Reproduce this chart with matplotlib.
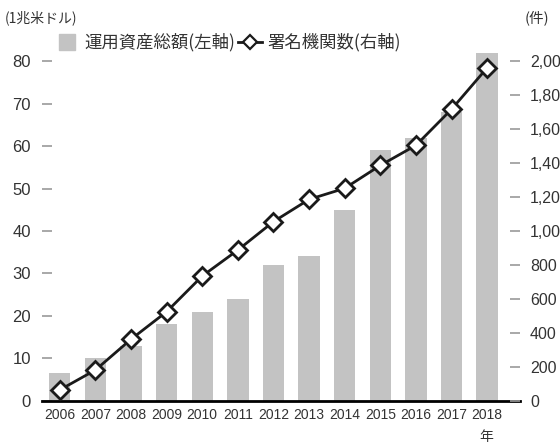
import matplotlib
matplotlib.use('Agg')
import matplotlib.pyplot as plt
from matplotlib.lines import Line2D

plt.rcParams['font.family'] = ['Liberation Sans', 'Noto Sans CJK JP', 'DejaVu Sans']

years = ['2006', '2007', '2008', '2009', '2010', '2011', '2012',
         '2013', '2014', '2015', '2016', '2017', '2018']
# 運用資産総額 (1兆米ドル, left axis)
assets = [6.5, 10, 13, 18, 21, 24, 32, 34, 45, 59, 62, 68, 82]
# 署名機関数 (件, right axis)
signatories = [65, 182, 363, 525, 735, 888, 1055, 1186, 1251, 1386, 1504, 1716, 1960]

left_ticks = [0, 10, 20, 30, 40, 50, 60, 70, 80]
right_ticks = [0, 200, 400, 600, 800, 1000, 1200, 1400, 1600, 1800, 2000]

bar_color = '#c3c3c3'
tick_gray = '#9a9a9a'
text_color = '#333333'

fig = plt.figure(figsize=(5.6, 4.45), dpi=100)
ax = fig.add_axes([0.075, 0.099, 0.854, 0.802])
x = list(range(len(years)))

ax.bar(x, assets, width=0.6, color=bar_color, zorder=1)
ax.set_xlim(-0.5, 12.93)
ax.set_ylim(0, 84)
ax.set_yticks(left_ticks)
ax.set_xticks(x)
ax.set_xticklabels(years, fontsize=10, color=text_color)
ax.tick_params(axis='x', length=0, pad=5)
ax.tick_params(axis='y', direction='in', length=7, width=1.2, color=tick_gray,
               pad=8, labelsize=12, labelcolor=text_color)

for s in ['top', 'left', 'right']:
    ax.spines[s].set_visible(False)
ax.spines['bottom'].set_linewidth(2)
ax.spines['bottom'].set_zorder(5)

ax2 = ax.twinx()
ax2.plot(x, signatories, color='#1a1a1a', lw=2, marker='D', markersize=9,
         markerfacecolor='white', markeredgecolor='#1a1a1a', markeredgewidth=2,
         zorder=3, clip_on=False)
ax2.set_ylim(0, 2100)
ax2.set_yticks(right_ticks)
ax2.set_yticklabels(['{:,}'.format(v) for v in right_ticks])
ax2.tick_params(axis='y', direction='in', length=7, width=1.2, color=tick_gray,
                pad=7, labelsize=11.5, labelcolor=text_color)
for s in ['top', 'left', 'right', 'bottom']:
    ax2.spines[s].set_visible(False)

handles = [
    Line2D([], [], marker='s', color=bar_color, linestyle='none', markersize=12),
    Line2D([], [], color='#1a1a1a', lw=2, marker='D', markersize=7,
           markerfacecolor='white', markeredgecolor='#1a1a1a', markeredgewidth=1.6),
]
labels = ['運用資産総額(左軸)', '署名機関数(右軸)']
leg = fig.legend(handles, labels, loc='upper left', bbox_to_anchor=(0.098, 0.925),
                 ncol=2, frameon=False, handlelength=1.4, handletextpad=0.3,
                 columnspacing=0.15, borderaxespad=0, borderpad=0,
                 prop={'family': ['Noto Sans CJK JP'], 'size': 12.5})
for t in leg.get_texts():
    t.set_color(text_color)

fig.text(0.008, 0.96, '(1兆米ドル)', fontsize=10, color=text_color,
         family=['Noto Sans CJK JP'], va='center', ha='left')
fig.text(0.937, 0.96, '(件)', fontsize=10.5, color=text_color,
         family=['Noto Sans CJK JP'], va='center', ha='left')
fig.text(0.869, 0.018, '年', fontsize=10, color=text_color,
         family=['Noto Sans CJK JP'], va='center', ha='center')

fig.savefig('out.png', dpi=100)
